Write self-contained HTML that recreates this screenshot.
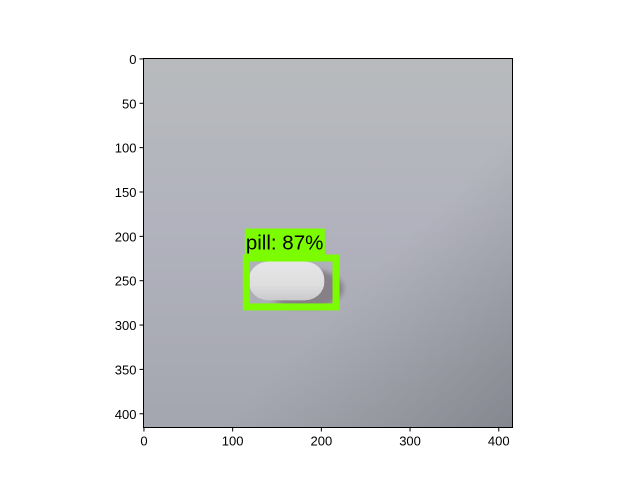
<!DOCTYPE html>
<html><head><meta charset="utf-8"><style>
html,body{margin:0;padding:0;background:#fff;width:640px;height:480px;overflow:hidden}
text{font-family:"Liberation Sans","DejaVu Sans",sans-serif}
</style></head><body>
<svg id="chart" width="640" height="480" xmlns="http://www.w3.org/2000/svg">
<defs>
<linearGradient id="bgv" x1="0" y1="0" x2="0" y2="1">
<stop offset="0" stop-color="#b8bbbd"/><stop offset="0.45" stop-color="#b1b2bd"/><stop offset="1" stop-color="#a4a6af"/>
</linearGradient>
<linearGradient id="bgh" x1="0" y1="0" x2="1" y2="1">
<stop offset="0.6" stop-color="#8a8c94" stop-opacity="0"/><stop offset="1" stop-color="#7f828a" stop-opacity="0.85"/>
</linearGradient>
<linearGradient id="pillg" x1="0" y1="0" x2="0" y2="1">
<stop offset="0" stop-color="#e6e6e8"/><stop offset="0.6" stop-color="#dededf"/><stop offset="1" stop-color="#cacacd"/>
</linearGradient>
<filter id="blur"><feGaussianBlur stdDeviation="2.5"/></filter>
</defs>
<g id="plot"></g>
</svg>
<script>
const xTicks=[0,100,200,300,400];
const yTicks=[0,50,100,150,200,250,300,350,400];
const imgSize=[416,416];
const boxes=[[112,221,221,284]];
const labels=["pill: 87%"];
const L=143.5,T=58.5,S=369/416;
const X=v=>L+v*S, Y=v=>T+v*S;
const NS="http://www.w3.org/2000/svg";
const g=document.getElementById('plot');
function mk(t,a,p){const e=document.createElementNS(NS,t);for(const k in a)e.setAttribute(k,a[k]);(p||g).appendChild(e);return e;}
const W=imgSize[0]*S,H=imgSize[1]*S;
const img=mk('g',{});


mk('rect',{x:L,y:T,width:W,height:H,fill:'url(#bgv)'},img);
mk('rect',{x:L,y:T,width:W,height:H,fill:'url(#bgh)'},img);
boxes.forEach((b,i)=>{
  const x1=X(b[0]),y1=Y(b[1]),x2=X(b[2]),y2=Y(b[3]);
  mk('ellipse',{cx:(x1+x2)/2+14,cy:(y1+y2)/2+6,rx:(x2-x1)/2-10,ry:(y2-y1)/2-8,fill:'#6e6468',opacity:0.6,filter:'url(#blur)'},img);
  const pill=mk('rect',{x:x1+6,y:y1+7,width:(x2-x1)*0.78,height:(y2-y1)-17,rx:20,ry:18,fill:'url(#pillg)'},img);
  
  
  const box=mk('rect',{x:x1+3.5,y:y1+3.5,width:x2-x1-7,height:y2-y1-7,fill:'none',stroke:'#7cfc00','stroke-width':7});
  
  
  const lb=mk('rect',{x:x1+2,y:y1-26,width:80,height:27,fill:'#7cfc00'});
  
  
  const tx=mk('text',{x:x1+3,y:y1-5,'font-size':20.5,fill:'#000'});
  tx.textContent=labels[i];
  
  
});
const fr=mk('rect',{x:L,y:T,width:W,height:H,fill:'none',stroke:'#000','stroke-width':1});


xTicks.forEach(v=>{
  const x=X(v+0.5);
  mk('line',{x1:x,y1:T+H,x2:x,y2:T+H+4,stroke:'#000'});
  const t=mk('text',{x:x,y:T+H+18,'font-size':13,'text-anchor':'middle'});
  t.textContent=v;
  
  
});
yTicks.forEach(v=>{
  const y=Y(v+0.5);
  mk('line',{x1:L,y1:y,x2:L-4,y2:y,stroke:'#000'});
  const t=mk('text',{x:L-7,y:y+5,'font-size':13,'text-anchor':'end'});
  t.textContent=v;
  
  
});
</script>
</body></html>
